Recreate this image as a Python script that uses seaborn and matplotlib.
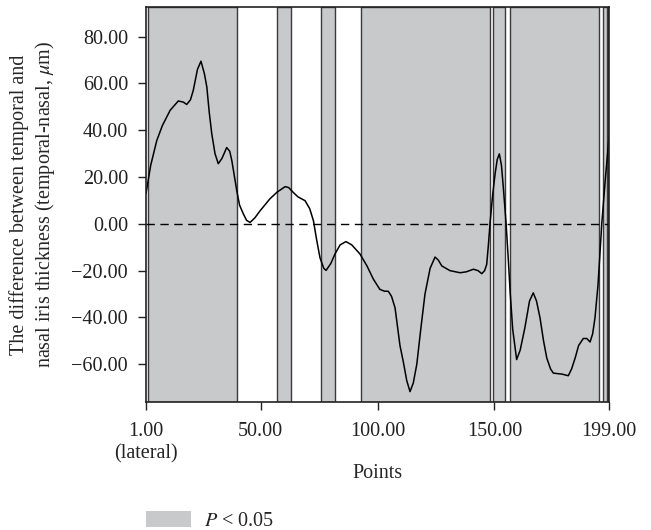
import seaborn as sns
import matplotlib.pyplot as plt
from matplotlib.patches import Patch

# data
points = [1, 3, 5.6, 8, 11.3, 14.8, 17, 18.4, 20, 21.2, 23, 24.5, 26, 27, 28, 29.1,
          30.5, 31.9, 33.5, 35.5, 36.8, 37.7, 39.8, 41, 42.6, 44, 45.5, 47.5, 49.8,
          54, 57, 60.5, 62, 64, 66, 69, 71, 72.6, 74, 75.4, 77, 78, 80, 81.8, 84,
          86.5, 89, 92.5, 95.5, 98.2, 101, 103, 104.6, 106, 107.5, 109.6, 111,
          112.5, 113.9, 115.3, 116.8, 118.5, 120.3, 122.5, 124.6, 126, 127.5, 131,
          135.3, 138, 141, 143, 144.6, 145.8, 146.7, 147.5, 148.1, 149.2, 150.3,
          151.2, 152.1, 153, 153.8, 155, 155.8, 156.7, 157.8, 159.5, 161, 163, 165,
          166.6, 168, 169.5, 171, 172.4, 174, 175.2, 178.8, 181.6, 183, 184.5, 186,
          188, 189.5, 190.9, 192, 193, 194.3, 195.2, 195.9, 197.5, 199]
diff = [13, 25, 35.6, 42, 48.5, 52.5, 52, 51, 53, 57, 66, 69.5, 64, 58.5, 48, 38.6,
        30, 25.7, 28, 32.6, 31, 27, 14.2, 8, 4.3, 1.5, 0.6, 2.5, 5.6,
        10.7, 13.5, 15.9, 15.5, 13.4, 11.5, 9.9, 6.5, 1.3, -7, -14.5, -19, -19.9, -17, -12.9, -9,
        -7.6, -9, -12.9, -18, -23.6, -28, -28.8, -28.8, -31, -35.9, -52, -58.8,
        -67, -71.7, -68, -60, -45, -30, -19, -14.2, -15.5, -18, -20,
        -20.9, -20.5, -19.4, -20, -21.3, -20, -17.3, -8, 0, 12, 21.5,
        27.5, 29.9, 25, 15.6, 0, -13, -28.8, -45, -58, -54, -44.5, -33,
        -29.5, -33, -40.2, -50, -57.4, -62, -63.8, -64.2, -64.9, -62, -57.4, -52,
        -49, -49, -50.5, -47, -40.2, -26, -11.6, 0, 20, 37]

# significant (P < 0.05) ranges of points
sig_start = [1.9, 57, 76, 93, 149.5, 156.5, 196.3, 198.7]
sig_end = [40, 63, 82, 148, 154.5, 194.7, 198.2, 199]

xticks = [1, 50, 100, 150, 199]
xticklabels = ["1.00\n(lateral)", "50.00", "100.00", "150.00", "199.00"]
yticks = [-60, -40, -20, 0, 20, 40, 60, 80]

sns.set_theme(style="ticks")
plt.rcParams['font.family'] = ['Liberation Serif', 'DejaVu Serif']
plt.rcParams['mathtext.fontset'] = 'stix'

fs = 14.5
fig = plt.figure(figsize=(6.51, 5.30), dpi=100)
ax = fig.add_axes([0.2243, 0.2421, 0.7112, 0.7440])

for s, e in zip(sig_start, sig_end):
    ax.axvspan(s, e, facecolor="#c8c9cb", edgecolor="#3a3a3a", linewidth=1.0, zorder=0)

ax.axhline(0, color="black", linestyle=(0, (6, 4)), linewidth=1.0, zorder=1)
sns.lineplot(x=points, y=diff, color="black", linewidth=1.1, ax=ax, zorder=2)

ax.set_xlim(1, 199)
ax.set_ylim(-76, 92.5)
ax.set_xticks(xticks)
ax.set_xticklabels(xticklabels, fontsize=fs, linespacing=1.25)
ax.set_yticks(yticks)
ax.set_yticklabels([f"{v:.2f}".replace("-", "\u2212") for v in yticks], fontsize=fs)
ax.tick_params(axis="x", direction="out", length=5.5, width=1, pad=9, colors="#222222")
ax.tick_params(axis="y", direction="out", length=6, width=1, pad=7, colors="#222222")
for sp in ax.spines.values():
    sp.set_color("#222222")
    sp.set_linewidth(1.2)

ax.set_xlabel("Points", fontsize=fs, labelpad=0)
ax.set_ylabel("The difference between temporal and\nnasal iris thickness (temporal-nasal, $\\mu$m)",
              fontsize=fs, labelpad=10, linespacing=1.25)

fig.legend(handles=[Patch(facecolor="#c8c9cb", edgecolor="none", label="$P$ < 0.05")],
           loc="center left", bbox_to_anchor=(0.2243, 0.017), frameon=False, borderpad=0,
           borderaxespad=0, fontsize=fs, handlelength=2.25, handleheight=0.85,
           handletextpad=0.65)

fig.savefig("out.png", dpi=100)
